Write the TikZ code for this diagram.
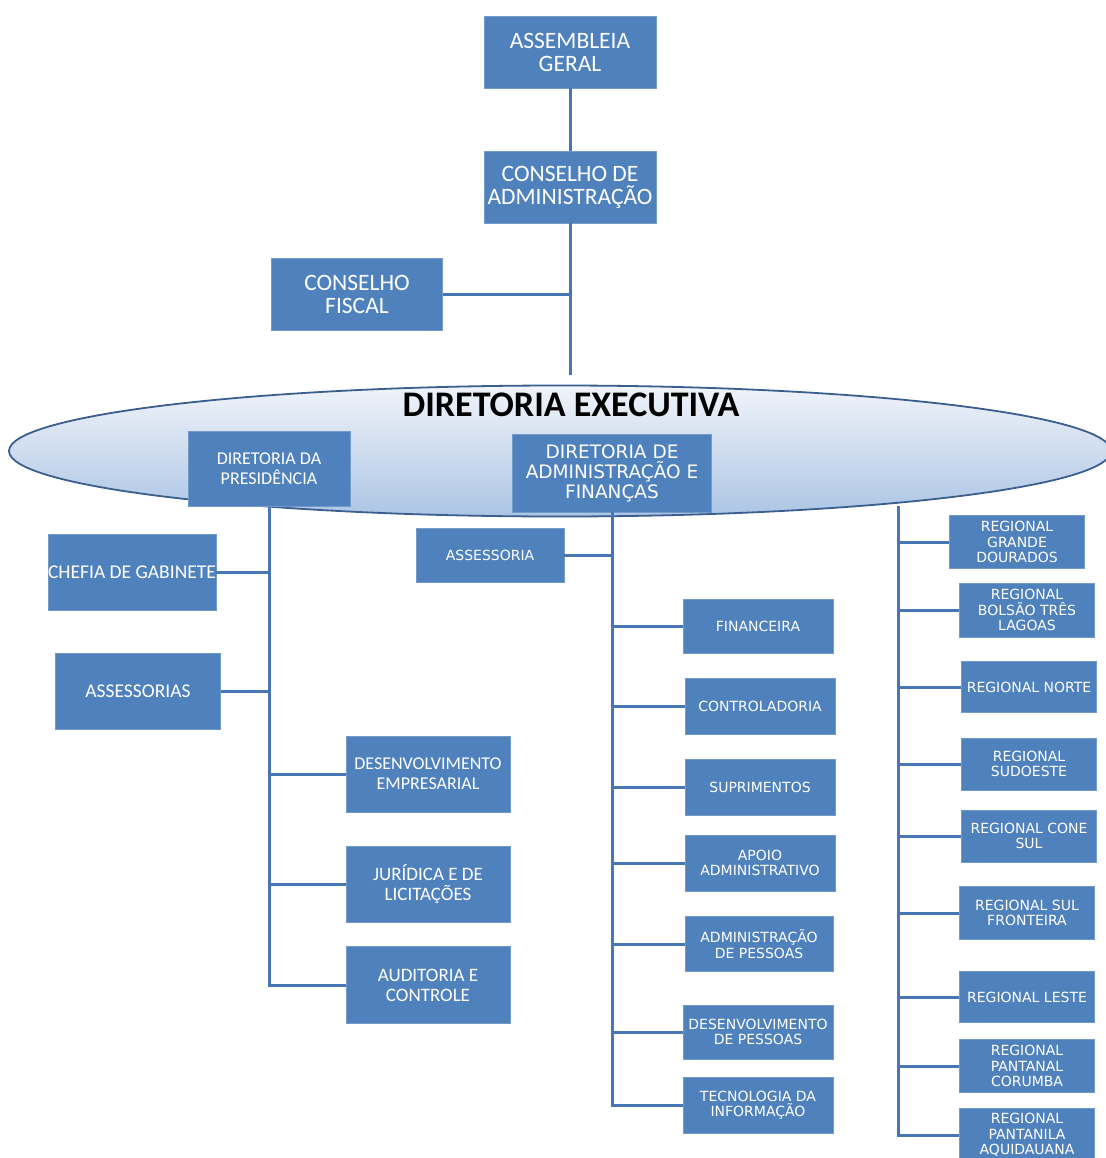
\documentclass[tikz,border=0pt]{standalone}
\usepackage{fontspec}
\setmainfont{Carlito}
\newfontfamily\dejavu{DejaVu Sans}
\usetikzlibrary{shapes.geometric}
\definecolor{azulCaixa}{HTML}{4F81BD}
\definecolor{azulLinha}{HTML}{4677B4}
\definecolor{bordaElipse}{HTML}{3A5F8E}

\begin{document}
\begin{tikzpicture}[x=1pt,y=-1pt,
    caixa/.style={rectangle,fill=azulCaixa,draw=azulCaixa!80!white,line width=0.8pt,text=white,align=center,inner sep=0pt},
    topo/.style={caixa,minimum width=172,minimum height=72,font=\fontsize{23.5}{23}\selectfont},
    esq/.style={caixa,minimum width=165,minimum height=76,font=\fontsize{19}{20}\selectfont},
    meio/.style={caixa,minimum width=150,minimum height=55,font=\dejavu\fontsize{14}{15.5}\selectfont},
    reg/.style={caixa,minimum width=135,minimum height=53,font=\dejavu\fontsize{14}{15.5}\selectfont},
    conector/.style={draw=azulLinha,line width=3pt}]
    \useasboundingbox (0,0) rectangle (1105,1158);
    \node[topo] (assembleia) at (570,52) {ASSEMBLEIA\\GERAL};
    \node[topo] (conselhoAdm) at (570,187) {CONSELHO DE\\ADMINISTRAÇÃO};
    \node[topo,minimum width=171] (fiscal) at (357,294) {CONSELHO\\FISCAL};
    \coordinate (fimTopo) at (570,375);
    \node[ellipse,draw=bordaElipse,line width=1.8pt,top color={rgb,255:red,240;green,244;blue,250},bottom color={rgb,255:red,172;green,196;blue,228},minimum width=1102,minimum height=131,inner sep=0pt] (executiva) at (560,451) {};
    \node[font=\bfseries\fontsize{36}{38}\selectfont] (tituloExecutiva) at (571,405) {DIRETORIA EXECUTIVA};
    \node[esq,minimum width=162,minimum height=75,font=\fontsize{18}{20}\selectfont] (pres) at (269,469) {DIRETORIA DA\\PRESIDÊNCIA};
    \node[caixa,minimum width=199,minimum height=78,font=\dejavu\fontsize{18.5}{20}\selectfont] (daf) at (612,473) {DIRETORIA DE\\ADMINISTRAÇÃO E\\FINANÇAS};
    \node[esq,font=\fontsize{19.5}{20}\selectfont] (chefia) at (132,572) {CHEFIA DE GABINETE};
    \node[esq,font=\fontsize{19.5}{20}\selectfont] (assessorias) at (138,691) {ASSESSORIAS};
    \node[esq,minimum width=164,font=\fontsize{18}{20}\selectfont] (desEmp) at (428,774) {DESENVOLVIMENTO\\EMPRESARIAL};
    \node[esq,minimum width=164] (juridica) at (428,884) {JURÍDICA E DE\\LICITAÇÕES};
    \node[esq,minimum width=164,minimum height=77] (auditoria) at (428,985) {AUDITORIA E\\CONTROLE};
    \node[meio,minimum width=148,minimum height=54] (assessoria) at (490,555) {ASSESSORIA};
    \node[meio,minimum height=54] (financeira) at (758,626) {FINANCEIRA};
    \node[meio,minimum height=56] (controladoria) at (760,706) {CONTROLADORIA};
    \node[meio,minimum height=56] (suprimentos) at (760,787) {SUPRIMENTOS};
    \node[meio,minimum height=56] (apoio) at (760,863) {APOIO\\ADMINISTRATIVO};
    \node[meio,minimum width=148] (admPessoas) at (759,944) {ADMINISTRAÇÃO\\DE PESSOAS};
    \node[meio,minimum height=54] (desPessoas) at (758,1032) {DESENVOLVIMENTO\\DE PESSOAS};
    \node[meio,minimum height=56] (tecnologia) at (758,1105) {TECNOLOGIA DA\\INFORMAÇÃO};
    \coordinate (topoRegional) at (898,506);
    \node[reg] (dourados) at (1017,542) {REGIONAL\\GRANDE\\DOURADOS};
    \node[reg,minimum height=54] (bolsao) at (1027,610) {REGIONAL\\BOLSÃO TRÊS\\LAGOAS};
    \node[reg,minimum height=51] (norte) at (1029,687) {REGIONAL NORTE};
    \node[reg,minimum height=52] (sudoeste) at (1029,764) {REGIONAL\\SUDOESTE};
    \node[reg,minimum height=52] (coneSul) at (1029,836) {REGIONAL CONE\\SUL};
    \node[reg] (sulFronteira) at (1027,913) {REGIONAL SUL\\FRONTEIRA};
    \node[reg,minimum height=51] (leste) at (1027,997) {REGIONAL LESTE};
    \node[reg] (corumba) at (1027,1066) {REGIONAL\\PANTANAL\\CORUMBA};
    \node[reg,minimum height=54] (aquidauana) at (1027,1135) {REGIONAL\\PANTANILA\\AQUIDAUANA};
    \draw[conector] (assembleia) -- (conselhoAdm);
    \draw[conector] (conselhoAdm) -- (fimTopo);
    \draw[conector] (fiscal) -- (fiscal -| fimTopo);
    \draw[conector] (pres) |- (auditoria);
    \foreach \n in {chefia,assessorias,desEmp,juridica}
        \draw[conector] (\n) -- (\n -| pres);
    \draw[conector] (daf) |- (tecnologia);
    \foreach \n in {assessoria,financeira,controladoria,suprimentos,apoio,admPessoas,desPessoas}
        \draw[conector] (\n) -- (\n -| daf);
    \draw[conector] (topoRegional) |- (aquidauana);
    \foreach \n in {dourados,bolsao,norte,sudoeste,coneSul,sulFronteira,leste,corumba}
        \draw[conector] (\n) -- (\n -| topoRegional);
\end{tikzpicture}
\end{document}
